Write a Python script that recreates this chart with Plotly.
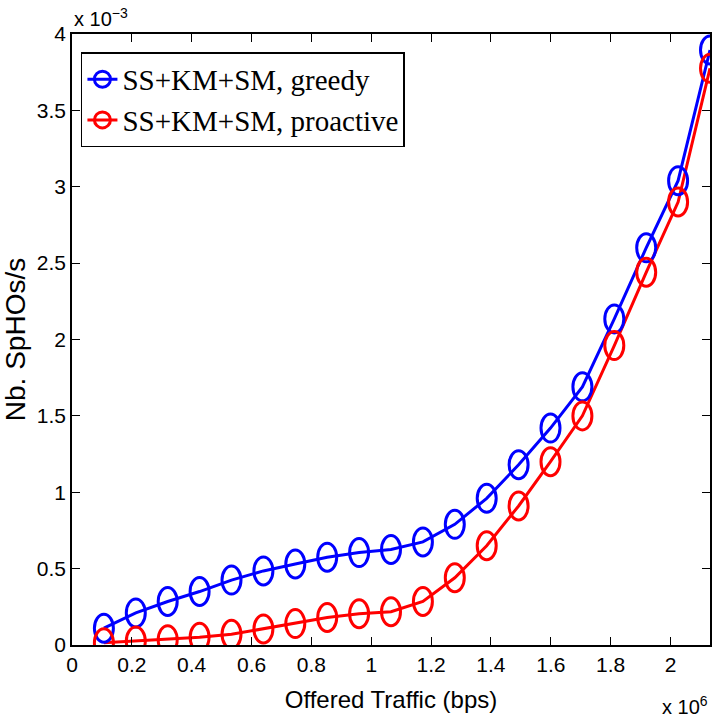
import plotly.graph_objects as go

# Offered traffic (bps)
traffic = [106600, 213200, 319800, 426400, 533000, 639600, 746200, 852800, 959400, 1066000,
           1172600, 1279200, 1385800, 1492400, 1599000, 1705600, 1812200, 1918800, 2025400, 2132000]
# Nb. SpHOs/s in units of 1e-3
greedy = [0.11, 0.21, 0.285, 0.35, 0.425, 0.485, 0.53, 0.575, 0.605, 0.625,
          0.675, 0.79, 0.96, 1.18, 1.42, 1.69, 2.135, 2.60, 3.04, 3.895]
proactive = [0.015, 0.026, 0.035, 0.05, 0.07, 0.105, 0.14, 0.18, 0.205, 0.218,
             0.285, 0.44, 0.65, 0.91, 1.20, 1.50, 1.96, 2.44, 2.90, 3.775]

names = ["SS+KM+SM, greedy", "SS+KM+SM, proactive"]
colors = ["#0000ff", "#ff0000"]
series = [greedy, proactive]

x_ticks = [0, 200000, 400000, 600000, 800000, 1000000, 1200000, 1400000, 1600000, 1800000, 2000000]
x_ticktext = ["0", "0.2", "0.4", "0.6", "0.8", "1", "1.2", "1.4", "1.6", "1.8", "2"]
y_ticks = [0, 0.5, 1, 1.5, 2, 2.5, 3, 3.5, 4]
y_ticktext = ["0", "0.5", "1", "1.5", "2", "2.5", "3", "3.5", "4"]

fig = go.Figure()
shapes = []
for name, col, ys in zip(names, colors, series):
    fig.add_trace(go.Scatter(x=traffic, y=ys, mode="lines", line=dict(color=col, width=3),
                             showlegend=False, hoverinfo="x+y"))
    # legend entry
    fig.add_trace(go.Scatter(x=[None], y=[None], mode="lines+markers", name=name,
                             line=dict(color=col, width=3),
                             marker=dict(symbol="circle-open", size=16, color=col,
                                         line=dict(width=3, color=col))))
    for xv, yv in zip(traffic, ys):
        shapes.append(dict(type="circle", xref="x", yref="y",
                           xsizemode="pixel", ysizemode="pixel",
                           xanchor=xv, yanchor=yv,
                           x0=-9.5, x1=9.5, y0=-14, y1=14,
                           line=dict(color=col, width=3), layer="above"))

axis_common = dict(showgrid=False, zeroline=False, showline=True, linecolor="black",
                   linewidth=1.5, mirror="ticks", ticks="inside", ticklen=8,
                   tickwidth=1.2, tickcolor="black",
                   tickfont=dict(family="Liberation Sans, Arial", size=21, color="black"))

fig.update_layout(
    width=714, height=723,
    margin=dict(l=72, r=2, t=34, b=78),
    plot_bgcolor="white", paper_bgcolor="white",
    shapes=shapes,
    xaxis=dict(range=[0, 2132000], tickvals=x_ticks, ticktext=x_ticktext,
               title=dict(text="Offered Traffic (bps)", standoff=16,
                          font=dict(family="Liberation Sans, Arial", size=24, color="black")),
               **axis_common),
    yaxis=dict(range=[0, 4], tickvals=y_ticks, ticktext=y_ticktext,
               title=dict(text="Nb. SpHOs/s", standoff=6,
                          font=dict(family="Liberation Sans, Arial", size=28, color="black")),
               **axis_common),
    legend=dict(x=0.014, y=0.97, xanchor="left", yanchor="top",
                bgcolor="white", bordercolor="black", borderwidth=1.5,
                font=dict(family="Liberation Serif, Times New Roman", size=29, color="black"),
                itemwidth=30, tracegroupgap=0),
    annotations=[
        dict(text="x 10<sup>\u22123</sup>", xref="paper", yref="paper", x=0, y=1,
             xanchor="left", yanchor="bottom", xshift=0, yshift=2, showarrow=False,
             font=dict(family="Liberation Sans, Arial", size=20, color="black")),
        dict(text="x 10<sup>6</sup>", xref="paper", yref="paper", x=1, y=0,
             xanchor="right", yanchor="top", xshift=0, yshift=-46, showarrow=False,
             font=dict(family="Liberation Sans, Arial", size=20, color="black")),
    ],
)

fig.write_html("out.html")
